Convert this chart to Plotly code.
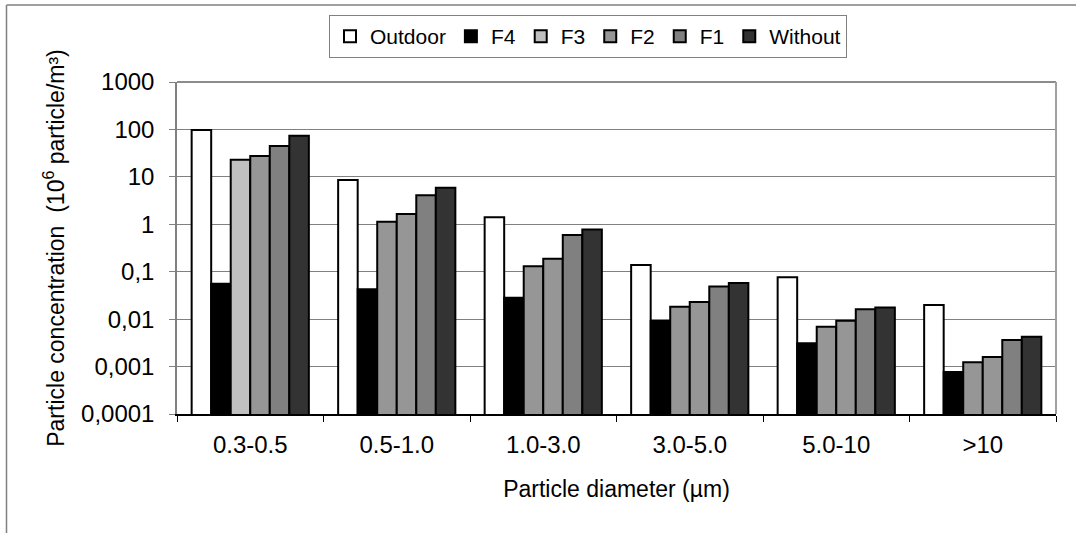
import plotly.graph_objects as go

# Particle size classes (µm)
categories = ["0.3-0.5", "0.5-1.0", "1.0-3.0", "3.0-5.0", "5.0-10", ">10"]

# Particle concentration, 10^6 particle/m³
outdoor = [97, 8.6, 1.40, 0.139, 0.076, 0.0199]
f4 = [0.056, 0.0426, 0.0284, 0.0091, 0.0031, 0.00077]
f3 = [23, 1.13, 0.13, 0.0183, 0.0069, 0.00123]
f2 = [27.5, 1.65, 0.188, 0.023, 0.0093, 0.00159]
f1 = [45, 4.1, 0.594, 0.049, 0.0161, 0.00363]
without = [74, 5.9, 0.78, 0.058, 0.0177, 0.00427]

y_tickvals = [0.0001, 0.001, 0.01, 0.1, 1, 10, 100, 1000]
y_ticktext = ["0,0001", "0,001", "0,01", "0,1", "1", "10", "100", "1000"]

FONT = "Liberation Sans, Arial, sans-serif"

series = [
    ("Outdoor", outdoor, "#FFFFFF"),
    ("F4", f4, "#000000"),
    ("F3", f3, ["#C0C0C0"] + ["#969696"] * 5),
    ("F2", f2, "#969696"),
    ("F1", f1, "#808080"),
    ("Without", without, "#333333"),
]

fig = go.Figure()
for name, vals, color in series:
    fig.add_trace(go.Bar(
        name=name, x=categories, y=vals,
        marker=dict(color=color, line=dict(color="#000000", width=2)),
    ))

# pixel -> paper helpers for the frame lines
L, R, T, B, W, H = 177, 1056, 82, 414, 1076, 533
px = lambda p: (p - L) / (R - L)
py = lambda q: (B - q) / (B - T)

shapes = [
    # plot-area top and right border
    dict(type="line", xref="paper", yref="paper", x0=0, x1=1, y0=1, y1=1,
         line=dict(color="#8C8C8C", width=2)),
    dict(type="line", xref="paper", yref="paper", x0=1, x1=1, y0=0, y1=1,
         line=dict(color="#A0A0A0", width=2)),
    # outer chart frame
    dict(type="line", xref="paper", yref="paper", x0=px(6.5), x1=px(6.5), y0=py(5), y1=py(540),
         line=dict(color="#808080", width=1.5)),
    dict(type="line", xref="paper", yref="paper", x0=px(6.5), x1=px(1080), y0=py(5), y1=py(5),
         line=dict(color="#808080", width=1.5)),
]

fig.update_layout(
    width=W, height=H,
    margin=dict(l=L, r=W - R, t=T, b=H - B),
    paper_bgcolor="white", plot_bgcolor="white",
    font=dict(family=FONT, size=23, color="#000000"),
    barmode="group", bargap=0.2, bargroupgap=0,
    showlegend=True,
    legend=dict(
        orientation="h", x=px(588), xanchor="center", y=py(15), yanchor="top",
        bordercolor="#808080", borderwidth=1, bgcolor="white",
        font=dict(family=FONT, size=21), itemwidth=30, traceorder="normal",
    ),
    shapes=shapes,
)

fig.update_xaxes(
    type="category", showgrid=False,
    showline=True, linecolor="#000000", linewidth=1.5,
    ticks="outside", tickson="boundaries", ticklen=6, tickcolor="#000000",
    tickfont=dict(size=24), ticklabelstandoff=8,
    title=dict(text="Particle diameter (µm)", font=dict(size=23), standoff=24),
)

fig.update_yaxes(
    type="log", range=[-4, 3],
    tickvals=y_tickvals, ticktext=y_ticktext,
    showgrid=True, gridcolor="#808080", gridwidth=1,
    showline=True, linecolor="#808080", linewidth=1.5,
    ticks="outside", ticklen=6, tickcolor="#808080",
    tickfont=dict(size=24), ticklabelstandoff=10, zeroline=False,
    title=dict(text="Particle concentration\u00a0 (10<sup>6</sup> particle/m³)",
               font=dict(size=23), standoff=10),
)

fig.write_html("out.html")
